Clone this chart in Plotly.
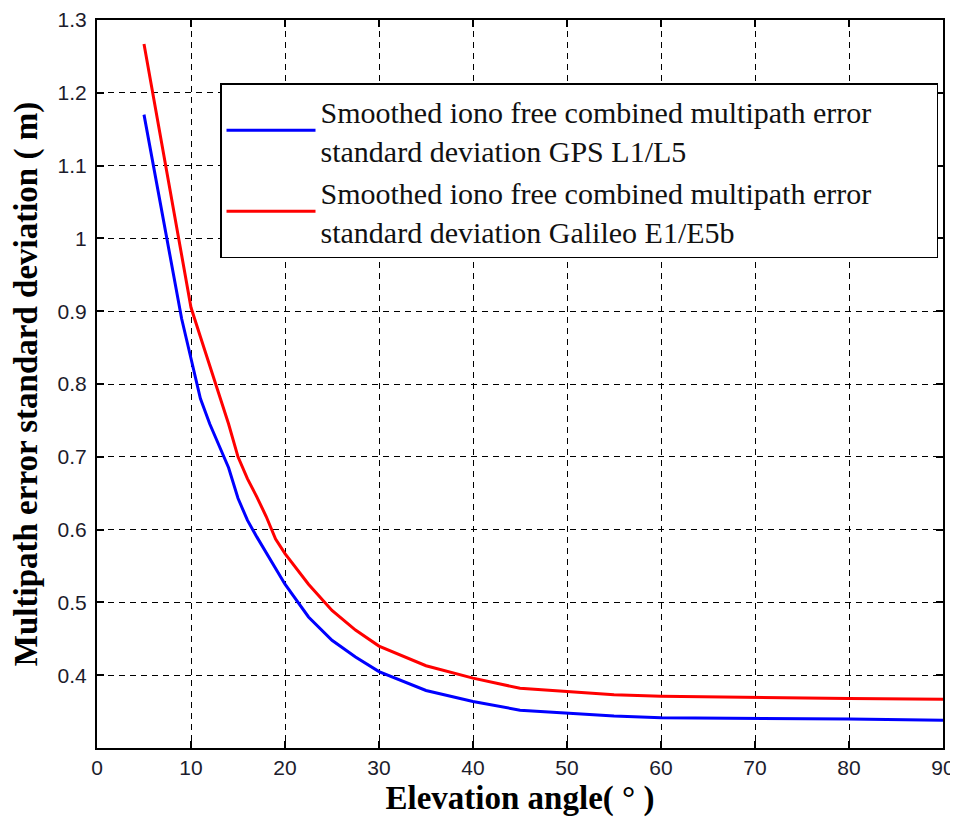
import plotly.graph_objects as go

elev_gps = [5, 6, 7, 8, 9, 10, 11, 12, 13, 14, 15, 16, 17, 18, 19, 20, 22.5, 25, 27.5, 30, 35, 40, 45, 50, 55, 60, 70, 80, 90]
sigma_gps = [1.17, 1.10, 1.03, 0.96, 0.89, 0.835, 0.78, 0.745, 0.715, 0.685, 0.643, 0.613, 0.59, 0.568, 0.545, 0.525, 0.48, 0.448, 0.425, 0.405, 0.379, 0.364, 0.352, 0.348, 0.344, 0.3415, 0.341, 0.340, 0.338]

elev_gal = [5, 6, 7, 8, 9, 10, 11, 12, 13, 14, 15, 16, 17, 18, 19, 20, 22.5, 25, 27.5, 30, 35, 40, 45, 50, 55, 60, 70, 80, 90]
sigma_gal = [1.267, 1.195, 1.12, 1.05, 0.98, 0.905, 0.865, 0.825, 0.785, 0.745, 0.70, 0.67, 0.645, 0.618, 0.587, 0.567, 0.525, 0.489, 0.462, 0.44, 0.413, 0.396, 0.382, 0.377, 0.373, 0.371, 0.369, 0.368, 0.367]

x_ticks = [0, 10, 20, 30, 40, 50, 60, 70, 80, 90]
y_ticks = [0.4, 0.5, 0.6, 0.7, 0.8, 0.9, 1.0, 1.1, 1.2, 1.3]
y_ticklabels = ["0.4", "0.5", "0.6", "0.7", "0.8", "0.9", "1", "1.1", "1.2", "1.3"]

names = [
    "Smoothed iono free combined multipath error<br>standard deviation GPS L1/L5",
    "Smoothed iono free combined multipath error<br>standard deviation Galileo E1/E5b",
]

# trailing non-breaking spaces widen the legend box to the reference's extent
pad = "&nbsp;" * 8
legend_names = [n.replace("<br>", pad + "<br>", 1) for n in names]

fig = go.Figure()
fig.add_trace(go.Scatter(x=elev_gps, y=sigma_gps, mode="lines", name=legend_names[0],
                         line=dict(color="#0000ff", width=3)))
fig.add_trace(go.Scatter(x=elev_gal, y=sigma_gal, mode="lines", name=legend_names[1],
                         line=dict(color="#ff0000", width=3)))

axis_common = dict(
    showline=True, linecolor="black", linewidth=2, mirror="ticks",
    ticks="inside", ticklen=7, tickcolor="black", tickwidth=1.5,
    showgrid=True, gridcolor="black", griddash="6px,5px", gridwidth=1.3,
    zeroline=False, automargin=False, ticklabeloverflow="allow",
    tickfont=dict(family="Liberation Sans, Arial", size=21, color="#1c1c2c"),
)

title_font = dict(family="Liberation Serif, Times New Roman", size=33, color="black")

fig.update_xaxes(range=[0, 90], tickvals=x_ticks, **axis_common,
                 title=dict(text="<b>Elevation angle( ° )</b>", font=title_font, standoff=10))
fig.update_yaxes(range=[0.3, 1.3], tickvals=y_ticks, ticktext=y_ticklabels, **axis_common,
                 ticklabelstandoff=4,
                 title=dict(text="<b>Multipath error standard deviation ( m)</b>", font=title_font,
                            standoff=13))

# page body has an 8px margin: figure is offset by (8, 8) in the window;
# height kept so the page does not scroll
fig.update_layout(
    width=950, height=809,
    margin=dict(l=89, r=15, t=12, b=69),
    plot_bgcolor="white", paper_bgcolor="white",
    legend=dict(x=0.1454, y=0.913, xanchor="left", yanchor="top",
                bgcolor="white", bordercolor="black", borderwidth=1.5,
                itemwidth=89,
                font=dict(family="Liberation Serif, Times New Roman", size=30, color="#111"),
                tracegroupgap=0),
    showlegend=True,
)

fig.write_html("out.html")
